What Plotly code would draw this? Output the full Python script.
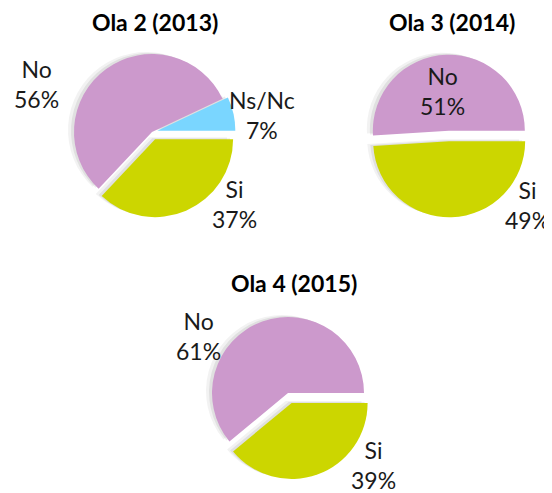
import plotly.graph_objects as go

# The page body has a default 8px margin, so the figure is drawn 8px in from the
# window's top-left corner; size the figure to the visible area and place things
# in window pixels minus that offset.
OFF = 8
W, H = 552 - OFF, 493 - OFF

# ---- data ----
titles = ["Ola 2 (2013)", "Ola 3 (2014)", "Ola 4 (2015)"]
labels_2013 = ["Ns/Nc", "No", "Si"]
values_2013 = [7, 56, 37]
labels_2014 = ["No", "Si"]
values_2014 = [51, 49]
labels_2015 = ["No", "Si"]
values_2015 = [61, 39]

colors = {"No": "#CC99CC", "Si": "#CCD600", "Ns/Nc": "#7AD6FF"}
FONT = "Lato, 'Open Sans', sans-serif"

# ---- layout constants (window-pixel geometry) ----
pies = [
    dict(labels=labels_2013, values=values_2013, cx=152, cy=132, r=78,
         pull={"Ns/Nc": 0.07, "No": 0.0, "Si": 0.1}),
    dict(labels=labels_2014, values=values_2014, cx=449, cy=136, r=76,
         pull={"No": 0.07, "Si": 0.07}),
    dict(labels=labels_2015, values=values_2015, cx=288, cy=393, r=76,
         pull={"No": 0.0, "Si": 0.14}),
]
title_pos = [(155, 22), (452, 22), (294, 283)]
label_pos = [
    {"No": (36, 84), "Ns/Nc": (262, 115), "Si": (234, 204)},
    {"No": (442, 91), "Si": (527, 205)},
    {"No": (198, 336), "Si": (373, 465)},
]


def px(x):
    return (x - OFF) / W


def py(y):
    return 1 - (y - OFF) / H


def dom(cx, cy, r, maxpull, dx=0, dy=0):
    h = r * (1 + maxpull)
    return dict(x=[px(cx + dx - h), px(cx + dx + h)],
                y=[py(cy + dy + h), py(cy + dy - h)])


def start_rotation(values):
    # plotly's counterclockwise pies place the first slice clockwise of `rotation`;
    # shift so the first slice starts at 3 o'clock and runs counterclockwise
    return 90 - 360.0 * values[0] / sum(values)


fig = go.Figure()

# soft shadow layers
for p in pies:
    mp = max(p["pull"].values())
    for dx, dy, a in [(-6, -2, 0.05), (-3, -1, 0.07)]:
        fig.add_trace(go.Pie(
            labels=p["labels"], values=p["values"], sort=False,
            direction="counterclockwise", rotation=start_rotation(p["values"]),
            pull=[p["pull"][l] for l in p["labels"]],
            marker=dict(colors=[f"rgba(0,0,0,{a})"] * len(p["labels"]), line=dict(width=0)),
            textinfo="none", hoverinfo="skip", showlegend=False,
            domain=dom(p["cx"], p["cy"], p["r"], mp, dx, dy),
        ))

for p in pies:
    mp = max(p["pull"].values())
    fig.add_trace(go.Pie(
        labels=p["labels"], values=p["values"], sort=False,
        direction="counterclockwise", rotation=start_rotation(p["values"]),
        pull=[p["pull"][l] for l in p["labels"]],
        marker=dict(colors=[colors[l] for l in p["labels"]], line=dict(width=0)),
        textinfo="none", showlegend=False,
        domain=dom(p["cx"], p["cy"], p["r"], mp),
    ))

annotations = []
for t, (x, y) in zip(titles, title_pos):
    annotations.append(dict(text=f"<b>{t}</b>", x=px(x), y=py(y), xref="paper", yref="paper",
                            showarrow=False, xanchor="center", yanchor="middle",
                            font=dict(family=FONT, size=23, color="#000000")))
for p, lp in zip(pies, label_pos):
    for l, v in zip(p["labels"], p["values"]):
        x, y = lp[l]
        annotations.append(dict(text=f"{l}<br>{v}%", x=px(x), y=py(y), xref="paper", yref="paper",
                                showarrow=False, xanchor="center", yanchor="middle", align="center",
                                font=dict(family=FONT, size=23, color="#1a1a1a")))

fig.update_layout(
    width=W, height=H, margin=dict(l=0, r=0, t=0, b=0),
    paper_bgcolor="white", plot_bgcolor="white",
    annotations=annotations,
)

fig.write_html("out.html")
